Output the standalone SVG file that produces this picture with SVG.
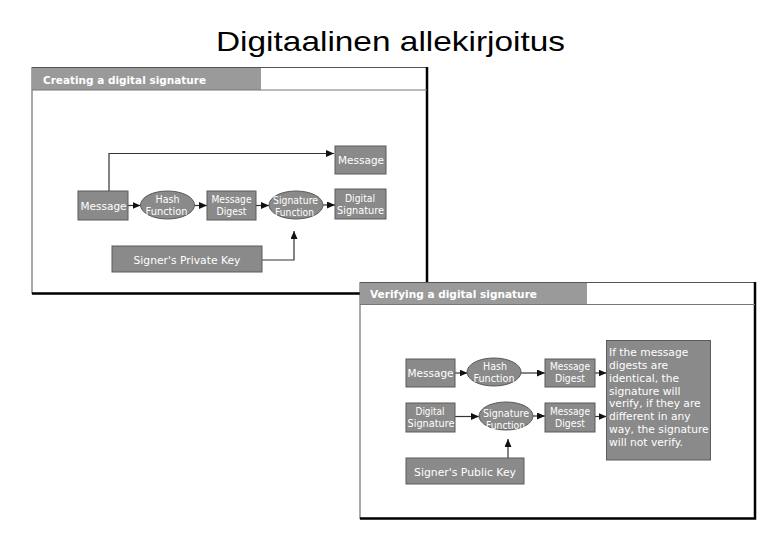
<svg xmlns="http://www.w3.org/2000/svg" width="780" height="540" viewBox="0 0 780 540">
<style>
.frame{fill:#fff;stroke:#555;stroke-width:1}
.edge{stroke:#000;stroke-width:2.5;fill:none}
.hdr{fill:#9a9a9a}
.sep{stroke:#777;stroke-width:1}
.hdrtxt{font-family:"DejaVu Sans",Verdana,sans-serif;font-weight:bold;font-size:10.5px;fill:#fff}
.box{fill:#8a8a8a;stroke:#5a5a5a;stroke-width:1}
.lbl{font-family:"DejaVu Sans",Verdana,sans-serif;font-size:10.8px;fill:#fff;text-anchor:middle}
.note{font-family:"DejaVu Sans",Verdana,sans-serif;font-size:10.7px;fill:#fff}
.conn{stroke:#333;stroke-width:1.2;fill:none;marker-end:url(#arr)}
</style>
<defs>
<marker id="arr" markerUnits="userSpaceOnUse" markerWidth="8" markerHeight="7" refX="8" refY="3.5" orient="auto">
<path d="M0,0 L8,3.5 L0,7 z" fill="#111"/>
</marker>
</defs>
<rect width="780" height="540" fill="#fff"/>
<text x="390.5" y="51" font-family="Liberation Sans, Arial, sans-serif" font-size="28" text-anchor="middle" textLength="349" lengthAdjust="spacingAndGlyphs" fill="#000">Digitaalinen allekirjoitus</text>

<g id="panel-create">
<rect class="frame" x="32" y="67.5" width="395" height="226"/>
<path class="edge" d="M427,67 V293.5 H32"/>
<rect class="hdr" x="32" y="68" width="229" height="22"/>
<line class="sep" x1="32" y1="90" x2="427" y2="90"/>
<text class="hdrtxt" x="43" y="84.3" textLength="163" lengthAdjust="spacingAndGlyphs">Creating a digital signature</text>
</g>

<g id="create-connectors">
<path class="conn" d="M109,191 V153.5 H334"/>
<path class="conn" d="M128,205.5 H140.5"/>
<path class="conn" d="M194,205.5 H207"/>
<path class="conn" d="M256,205.5 H269"/>
<path class="conn" d="M323,205 H335"/>
<path class="conn" d="M262,260 H294 V231"/>
</g>

<g id="c-message">
<rect class="box" x="78" y="191" width="50" height="29"/>
<text class="lbl" x="103.5" y="210" textLength="46" lengthAdjust="spacingAndGlyphs">Message</text>
</g>
<g id="c-hash">
<ellipse class="box" cx="167.5" cy="205" rx="27" ry="14"/>
<text class="lbl" x="167.5" y="203" textLength="24" lengthAdjust="spacingAndGlyphs">Hash</text>
<text class="lbl" x="166.5" y="215" textLength="42" lengthAdjust="spacingAndGlyphs">Function</text>
</g>
<g id="c-digest">
<rect class="box" x="207" y="191" width="49" height="29"/>
<text class="lbl" x="231.5" y="203" textLength="40" lengthAdjust="spacingAndGlyphs">Message</text>
<text class="lbl" x="231.5" y="214.5" textLength="30" lengthAdjust="spacingAndGlyphs">Digest</text>
</g>
<g id="c-sigfunc">
<ellipse class="box" cx="296" cy="205" rx="27" ry="14"/>
<text class="lbl" x="295.5" y="204" textLength="45" lengthAdjust="spacingAndGlyphs">Signature</text>
<text class="lbl" x="294.5" y="215.5" textLength="39" lengthAdjust="spacingAndGlyphs">Function</text>
</g>
<g id="c-digsig">
<rect class="box" x="335" y="189" width="51" height="30"/>
<text class="lbl" x="360" y="202" textLength="30" lengthAdjust="spacingAndGlyphs">Digital</text>
<text class="lbl" x="360.5" y="213.5" textLength="47" lengthAdjust="spacingAndGlyphs">Signature</text>
</g>
<g id="c-message-out">
<rect class="box" x="335" y="146" width="51" height="28"/>
<text class="lbl" x="361" y="163.5" textLength="46" lengthAdjust="spacingAndGlyphs">Message</text>
</g>
<g id="c-privkey">
<rect class="box" x="112" y="246" width="150" height="26"/>
<text class="lbl" x="187" y="263.5" textLength="107" lengthAdjust="spacingAndGlyphs">Signer's Private Key</text>
</g>

<g id="panel-verify">
<rect class="frame" x="360" y="282.5" width="395" height="236"/>
<path class="edge" d="M755,282 V518.5 H360"/>
<rect class="hdr" x="360" y="283" width="227" height="21.5"/>
<line class="sep" x1="360" y1="304.5" x2="755" y2="304.5"/>
<text class="hdrtxt" x="370" y="298.4" textLength="167" lengthAdjust="spacingAndGlyphs">Verifying a digital signature</text>
</g>

<g id="verify-connectors">
<path class="conn" d="M455,373 H467.5"/>
<path class="conn" d="M521,373 H545"/>
<path class="conn" d="M595,373 H606.5"/>
<path class="conn" d="M455,416.5 H479"/>
<path class="conn" d="M533,416 H545"/>
<path class="conn" d="M595,416.5 H606.5"/>
<path class="conn" d="M508,458 V439"/>
</g>

<g id="v-message">
<rect class="box" x="406" y="359" width="49" height="28"/>
<text class="lbl" x="430.5" y="377" textLength="46" lengthAdjust="spacingAndGlyphs">Message</text>
</g>
<g id="v-hash">
<ellipse class="box" cx="494" cy="372" rx="27" ry="14"/>
<text class="lbl" x="495" y="370" textLength="24" lengthAdjust="spacingAndGlyphs">Hash</text>
<text class="lbl" x="494" y="382" textLength="41" lengthAdjust="spacingAndGlyphs">Function</text>
</g>
<g id="v-digest1">
<rect class="box" x="545" y="359" width="50" height="28"/>
<text class="lbl" x="570" y="370" textLength="40" lengthAdjust="spacingAndGlyphs">Message</text>
<text class="lbl" x="570" y="382" textLength="30" lengthAdjust="spacingAndGlyphs">Digest</text>
</g>
<g id="v-digsig">
<rect class="box" x="406" y="403" width="49" height="29"/>
<text class="lbl" x="430" y="415" textLength="29" lengthAdjust="spacingAndGlyphs">Digital</text>
<text class="lbl" x="431" y="427" textLength="47" lengthAdjust="spacingAndGlyphs">Signature</text>
</g>
<g id="v-sigfunc">
<ellipse class="box" cx="506" cy="416" rx="27" ry="14"/>
<text class="lbl" x="506" y="417" textLength="46" lengthAdjust="spacingAndGlyphs">Signature</text>
<text class="lbl" x="505.5" y="428.5" textLength="39" lengthAdjust="spacingAndGlyphs">Function</text>
</g>
<g id="v-digest2">
<rect class="box" x="545" y="403" width="50" height="29"/>
<text class="lbl" x="570" y="415" textLength="40" lengthAdjust="spacingAndGlyphs">Message</text>
<text class="lbl" x="570" y="427" textLength="30" lengthAdjust="spacingAndGlyphs">Digest</text>
</g>
<g id="v-pubkey">
<rect class="box" x="406" y="458" width="118" height="26"/>
<text class="lbl" x="465" y="476" textLength="102" lengthAdjust="spacingAndGlyphs">Signer's Public Key</text>
</g>
<g id="v-result">
<rect class="box" x="606.5" y="340.5" width="104" height="119.5"/>
<text class="note" x="609" y="356">If the message</text>
<text class="note" x="609" y="368.9">digests are</text>
<text class="note" x="609" y="381.7">identical, the</text>
<text class="note" x="609" y="394.6">signature will</text>
<text class="note" x="609" y="407.4">verify, if they are</text>
<text class="note" x="609" y="420.3">different in any</text>
<text class="note" x="609" y="433.1">way, the signature</text>
<text class="note" x="609" y="446">will not verify.</text>
</g>
</svg>
